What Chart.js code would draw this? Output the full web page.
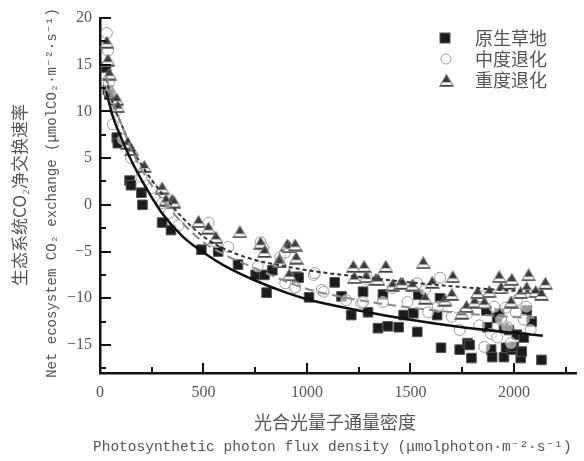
<!DOCTYPE html>
<html>
<head>
<meta charset="utf-8">
<script src="https://cdn.jsdelivr.net/npm/chart.js@4/dist/chart.umd.min.js"></script>
<style>
  html, body { margin: 0; padding: 0; background: #fff; }
  #wrap { width: 584px; height: 461px; position: relative; }
</style>
</head>
<body>
<div id="wrap"><canvas id="nee"></canvas></div>
<script>
// Assi: tacche principali e secondarie
const xMajor = [0, 500, 1000, 1500, 2000];
const xMinor = [250, 750, 1250, 1750, 2250];
const yMajor = [-15, -10, -5, 0, 5, 10, 15, 20];
const yMinor = [-17.5, -12.5, -7.5, -2.5, 2.5, 7.5, 12.5, 17.5];

const seriesNames = ['原生草地', '中度退化', '重度退化'];

// 原生草地 (quadrati neri)
const grassX = [29, 38, 45, 81, 86, 143, 150, 200, 205, 300, 343, 490, 571, 667, 752, 795, 805, 833, 952, 960,
  1010, 1134, 1167, 1214, 1271, 1295, 1343, 1367, 1390, 1443, 1467, 1514, 1533, 1538, 1629, 1643, 1648, 1738, 1776, 1786,
  1795, 1867, 1871, 1890, 1895, 1919, 1929, 1952, 1952, 1962, 1976, 1990, 2000, 2014, 2033, 2038, 2048, 2062, 2086, 2133];
const grassY = [14.7, 12.3, 11.8, 7.2, 6.6, 2.6, 2.1, 1.3, 0.0, -1.9, -2.7, -4.8, -5.0, -6.4, -7.5, -7.5, -9.4, -7.0, -7.7, -7.8,
  -9.9, -8.3, -9.8, -11.8, -9.3, -11.5, -13.2, -9.6, -13.0, -13.1, -11.8, -11.6, -13.6, -9.6, -11.8, -10.0, -15.3, -15.5, -14.8, -15.0,
  -16.4, -11.3, -13.1, -15.5, -16.3, -12.1, -11.6, -16.3, -13.2, -15.3, -13.4, -15.5, -15.2, -13.9, -16.4, -15.7, -14.2, -11.3, -12.5, -16.6];

// 中度退化 (cerchi vuoti)
const modX = [33, 38, 43, 48, 62, 75, 110, 150, 200, 250, 300, 333, 380, 524, 562, 620, 762, 776, 790, 871, 895, 895, 943, 943,
  1033, 1038, 1071, 1081, 1190, 1262, 1271, 1295, 1367, 1414, 1486, 1533, 1571, 1586, 1633, 1643, 1700, 1738, 1776, 1833, 1843,
  1857, 1890, 1905, 1919, 1938, 1960, 1967, 1986, 2010, 2014, 2048, 2060, 2081];
const modY = [18.4, 16.5, 13.0, 12.0, 8.6, 10.0, 7.0, 5.0, 3.0, 1.8, 0.2, -0.9, -2.2, -1.9, -4.0, -4.5, -6.6, -4.0, -4.6, -5.6, -5.1, -8.4, -8.8, -8.9,
  -7.5, -7.3, -9.1, -9.3, -10.2, -10.5, -10.4, -8.0, -10.4, -8.9, -10.4, -8.4, -9.1, -11.5, -10.9, -7.8, -12.0, -13.4, -11.6, -12.9, -9.8,
  -15.2, -13.8, -10.9, -14.2, -12.3, -11.0, -13.1, -14.8, -11.5, -10.2, -12.3, -10.9, -13.4];

// 重度退化 (triangoli)
const sevX = [33, 38, 45, 81, 86, 133, 152, 214, 300, 319, 348, 357, 476, 524, 560, 676, 776, 795, 867, 867, 905, 914, 914, 943, 948,
  1224, 1229, 1276, 1286, 1333, 1343, 1381, 1414, 1452, 1462, 1510, 1562, 1571, 1605, 1667, 1700, 1705, 1748, 1771, 1810,
  1824, 1857, 1881, 1929, 1938, 1976, 1986, 1990, 2033, 2062, 2071, 2105, 2133, 2152];
const sevY = [17.4, 15.5, 14.0, 11.3, 10.5, 6.6, 5.9, 4.1, 1.8, 0.5, 0.5, 0.3, -1.8, -2.5, -3.5, -2.9, -4.1, -5.0, -5.9, -6.1, -4.3, -4.5, -7.5, -4.3, -5.7,
  -6.6, -7.8, -6.6, -7.7, -8.0, -8.0, -6.6, -8.6, -8.4, -8.4, -8.6, -6.2, -10.0, -8.3, -10.2, -9.6, -7.7, -11.6, -10.9, -10.4,
  -9.4, -10.5, -9.3, -7.7, -8.9, -8.4, -10.4, -8.0, -9.4, -8.9, -7.5, -9.3, -9.6, -8.4];

// Curve di regressione
const grassCurveX = [30, 60, 100, 150, 200, 300, 400, 500, 600, 750, 900, 1000, 1250, 1500, 1750, 2000, 2140];
const grassCurveY = [12.2, 9.6, 7.3, 4.8, 2.7, -0.9, -3.4, -5.1, -6.5, -8.1, -9.4, -10.1, -11.3, -12.3, -13.1, -13.7, -14.0];
const modCurveX = [30, 60, 100, 150, 200, 300, 400, 500, 600, 750, 900, 1000, 1250, 1500, 1750, 2000, 2100];
const modCurveY = [13.8, 11.2, 8.8, 6.0, 3.8, 0.6, -2.0, -4.0, -5.3, -6.8, -8.2, -9.0, -10.2, -11.0, -11.6, -12.0, -12.1];
const sevCurveX = [30, 60, 100, 150, 200, 300, 400, 500, 600, 750, 900, 1000, 1250, 1500, 1750, 2000, 2150];
const sevCurveY = [13.5, 11.0, 8.8, 6.3, 4.3, 1.2, -1.4, -3.4, -4.7, -5.9, -6.6, -7.0, -7.7, -8.3, -8.8, -9.2, -9.3];

const pairs = (xs, ys) => xs.map((x, i) => ({ x: x, y: ys[i] }));

// Triangolo grigio con banda bianca
function makeTriangle(w, h) {
    const c = document.createElement('canvas');
    c.width = w; c.height = h;
    const g = c.getContext('2d');
    g.beginPath();
    g.moveTo(w / 2, 0.5);
    g.lineTo(w - 0.5, h - 0.5);
    g.lineTo(0.5, h - 0.5);
    g.closePath();
    g.save();
    g.clip();
    g.fillStyle = '#3c3c3c';
    g.fillRect(0, 0, w, h);
    g.fillStyle = '#ffffff';
    g.fillRect(0, h * 0.64, w, h * 0.2);
    g.restore();
    g.strokeStyle = '#777';
    g.lineWidth = 1;
    g.stroke();
    return c;
}
const triangle = makeTriangle(15, 13);

const fmt = v => (v < 0 ? '\u2212' + Math.abs(v) : String(v));

// Tacche interne, titoli degli assi e legenda
const decor = {
    id: 'decor',
    afterDraw(chart) {
        const ctx = chart.ctx;
        const xs = chart.scales.x, ys = chart.scales.y;
        const area = chart.chartArea;
        ctx.save();
        ctx.strokeStyle = '#111';
        ctx.lineWidth = 2;
        xs.ticks.forEach(t => {
            if (t.value === 0) return;
            const len = xMajor.includes(t.value) ? 10 : 6;
            const px = Math.round(xs.getPixelForValue(t.value));
            ctx.beginPath();
            ctx.moveTo(px, area.bottom);
            ctx.lineTo(px, area.bottom - len);
            ctx.stroke();
        });
        ys.ticks.forEach(t => {
            const len = yMajor.includes(t.value) ? 11 : 6;
            const py = Math.round(ys.getPixelForValue(t.value));
            ctx.beginPath();
            ctx.moveTo(area.left, py);
            ctx.lineTo(area.left + len, py);
            ctx.stroke();
        });

        ctx.fillStyle = '#555';
        ctx.textBaseline = 'middle';
        // titolo asse y
        ctx.save();
        ctx.translate(20, 195);
        ctx.rotate(-Math.PI / 2);
        ctx.textAlign = 'center';
        ctx.font = '17px "Noto Sans CJK SC"';
        ctx.fillText('生态系统CO₂净交换速率', 0, 0);
        ctx.restore();
        ctx.save();
        ctx.translate(52, 193);
        ctx.rotate(-Math.PI / 2);
        ctx.textAlign = 'center';
        ctx.font = '14px "Liberation Mono", monospace';
        ctx.fillText('Net ecosystem CO₂ exchange (μmolCO₂·m⁻²·s⁻¹)', 0, 0);
        ctx.restore();
        // titolo asse x
        ctx.textAlign = 'center';
        ctx.font = '18px "Noto Sans CJK SC"';
        ctx.fillText('光合光量子通量密度', 335, 422);
        ctx.textAlign = 'left';
        ctx.font = '14.5px "Liberation Mono", monospace';
        ctx.fillText('Photosynthetic photon flux density (μmolphoton·m⁻²·s⁻¹)', 93, 447);

        // legenda
        const ly = [38, 59, 80];
        ctx.fillStyle = '#1c1c1c';
        ctx.strokeStyle = '#555';
        ctx.lineWidth = 1;
        ctx.fillRect(440, ly[0] - 5, 10, 10);
        ctx.strokeRect(440, ly[0] - 5, 10, 10);
        ctx.beginPath();
        ctx.arc(446, ly[1], 5, 0, Math.PI * 2);
        ctx.fillStyle = '#fff';
        ctx.fill();
        ctx.strokeStyle = '#999';
        ctx.stroke();
        ctx.drawImage(triangle, 446 - 7, ly[2] - 6);
        ctx.fillStyle = '#555';
        ctx.font = '18px "Noto Sans CJK SC"';
        seriesNames.forEach((n, i) => ctx.fillText(n, 475, ly[i]));
        ctx.restore();
    }
};

new Chart(document.getElementById('nee'), {
    type: 'scatter',
    data: {
        datasets: [{
            label: seriesNames[0] + ' fit',
            data: pairs(grassCurveX, grassCurveY),
            showLine: true,
            pointRadius: 0,
            borderColor: '#111',
            borderWidth: 2.5,
            cubicInterpolationMode: 'monotone',
            order: 0
        }, {
            label: seriesNames[1] + ' fit',
            data: pairs(modCurveX, modCurveY),
            showLine: true,
            pointRadius: 0,
            borderColor: '#8a8a8a',
            borderWidth: 2,
            borderDash: [9, 5],
            cubicInterpolationMode: 'monotone',
            order: 0
        }, {
            label: seriesNames[2] + ' fit',
            data: pairs(sevCurveX, sevCurveY),
            showLine: true,
            pointRadius: 0,
            borderColor: '#333',
            borderWidth: 2,
            borderDash: [4, 3],
            cubicInterpolationMode: 'monotone',
            order: 0
        }, {
            label: seriesNames[2],
            data: pairs(sevX, sevY),
            pointStyle: triangle,
            pointRadius: 7,
            order: 1
        }, {
            label: seriesNames[1],
            data: pairs(modX, modY),
            pointStyle: 'circle',
            pointRadius: 5.5,
            backgroundColor: 'rgba(255,255,255,0.55)',
            borderColor: '#9a9a9a',
            borderWidth: 1,
            order: 2
        }, {
            label: seriesNames[0],
            data: pairs(grassX, grassY),
            pointStyle: 'rect',
            pointRadius: 6.8,
            backgroundColor: '#1c1c1c',
            borderColor: '#555',
            borderWidth: 1,
            order: 3
        }]
    },
    options: {
        responsive: true,
        maintainAspectRatio: false,
        animation: false,
        layout: { padding: { top: 18, right: 1, left: 0, bottom: 0 } },
        plugins: {
            legend: { display: false },
            tooltip: { enabled: false }
        },
        scales: {
            x: {
                type: 'linear',
                min: 0,
                max: 2300,
                afterBuildTicks: s => { s.ticks = xMajor.concat(xMinor).sort((a, b) => a - b).map(v => ({ value: v })); },
                afterFit: s => { s.height = 88; },
                grid: { display: false, drawTicks: false },
                border: { display: true, color: '#111', width: 2.5 },
                ticks: {
                    padding: 10,
                    color: '#555',
                    font: { family: '"Liberation Serif", "DejaVu Serif", serif', size: 16 },
                    maxRotation: 0,
                    autoSkip: false,
                    callback: v => (xMajor.includes(v) ? String(v) : '')
                }
            },
            y: {
                type: 'linear',
                min: -18,
                max: 20,
                afterBuildTicks: s => { s.ticks = yMinor.concat(yMajor).sort((a, b) => a - b).map(v => ({ value: v })); },
                afterFit: s => { s.width = 100; },
                grid: { display: false, drawTicks: false },
                border: { display: true, color: '#111', width: 2.5 },
                ticks: {
                    padding: 8,
                    color: '#555',
                    font: { family: '"Liberation Serif", "DejaVu Serif", serif', size: 16 },
                    autoSkip: false,
                    callback: v => (yMajor.includes(v) ? fmt(v) : '')
                }
            }
        }
    },
    plugins: [decor]
});
</script>
</body>
</html>
